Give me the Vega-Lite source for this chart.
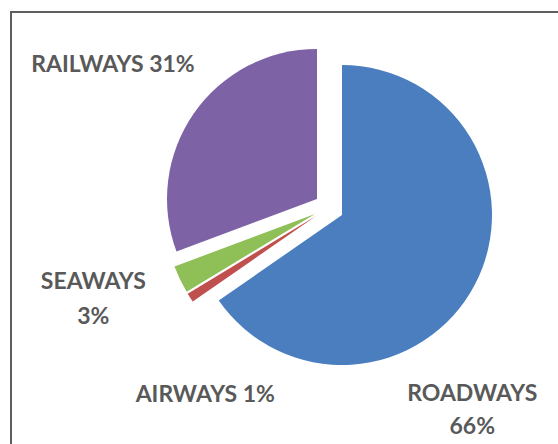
{
  "$schema": "https://vega.github.io/schema/vega-lite/v6.json",
  "width": 567,
  "height": 435,
  "autosize": {"type": "none"},
  "padding": {"left": 11, "top": 12, "right": -20, "bottom": -3},
  "background": "white",
  "view": {"stroke": "#5e5e5e", "strokeWidth": 2},
  "data": {
    "values": [
      {"mode": "ROADWAYS", "value": 66, "label": "ROADWAYS 66%", "order": 1},
      {"mode": "AIRWAYS", "value": 1, "label": "AIRWAYS 1%", "order": 2},
      {"mode": "SEAWAYS", "value": 3, "label": "SEAWAYS 3%", "order": 3},
      {"mode": "RAILWAYS", "value": 31, "label": "RAILWAYS 31%", "order": 4}
    ]
  },
  "transform": [
    {"stack": "value", "groupby": [], "sort": [{"field": "order", "order": "ascending"}], "as": ["v0", "v1"]}
  ],
  "encoding": {
    "theta": {"field": "v0", "type": "quantitative", "scale": {"domain": [0, 101]}}
  },
  "layer": [
    {
      "transform": [{"filter": "datum.mode === 'ROADWAYS'"}],
      "mark": {"type": "arc", "radius": 150, "xOffset": 47.5, "yOffset": -14.5, "color": "#4A7EBF"},
      "encoding": {"theta2": {"field": "v1"}}
    },
    {
      "transform": [{"filter": "datum.mode === 'AIRWAYS'"}],
      "mark": {"type": "arc", "radius": 150, "xOffset": 21.5, "yOffset": -13.5, "color": "#C0504D"},
      "encoding": {"theta2": {"field": "v1"}}
    },
    {
      "transform": [{"filter": "datum.mode === 'SEAWAYS'"}],
      "mark": {"type": "arc", "radius": 150, "xOffset": 20.5, "yOffset": -15.5, "color": "#8FBF57"},
      "encoding": {"theta2": {"field": "v1"}}
    },
    {
      "transform": [{"filter": "datum.mode === 'RAILWAYS'"}],
      "mark": {"type": "arc", "radius": 150, "xOffset": 22.5, "yOffset": -30.5, "color": "#7E62A6"},
      "encoding": {"theta2": {"field": "v1"}}
    },
    {
      "transform": [{"filter": "datum.mode === 'ROADWAYS'"}],
      "mark": {"type": "text", "radius": 235, "thetaOffset": 2.486, "xOffset": 34.5, "yOffset": -21.5, "lineBreak": " ", "lineHeight": 33, "font": "Lato", "fontWeight": "bold", "fontSize": 23, "color": "#595959", "align": "center", "baseline": "middle"},
      "encoding": {"text": {"field": "label"}}
    },
    {
      "transform": [{"filter": "datum.mode === 'AIRWAYS'"}],
      "mark": {"type": "text", "radius": 224, "thetaOffset": -0.379, "xOffset": 34.5, "yOffset": -21.5, "font": "Lato", "fontWeight": "bold", "fontSize": 23, "color": "#595959", "align": "center", "baseline": "middle"},
      "encoding": {"text": {"field": "label"}}
    },
    {
      "transform": [{"filter": "datum.mode === 'SEAWAYS'"}],
      "mark": {"type": "text", "radius": 247, "thetaOffset": 0.241, "xOffset": 34.5, "yOffset": -21.5, "lineBreak": " ", "lineHeight": 35, "font": "Lato", "fontWeight": "bold", "fontSize": 23, "color": "#595959", "align": "center", "baseline": "middle"},
      "encoding": {"text": {"field": "label"}}
    },
    {
      "transform": [{"filter": "datum.mode === 'RAILWAYS'"}],
      "mark": {"type": "text", "radius": 259, "thetaOffset": 0.942, "xOffset": 34.5, "yOffset": -21.5, "font": "Lato", "fontWeight": "bold", "fontSize": 23, "color": "#595959", "align": "center", "baseline": "middle"},
      "encoding": {"text": {"field": "label"}}
    }
  ]
}
